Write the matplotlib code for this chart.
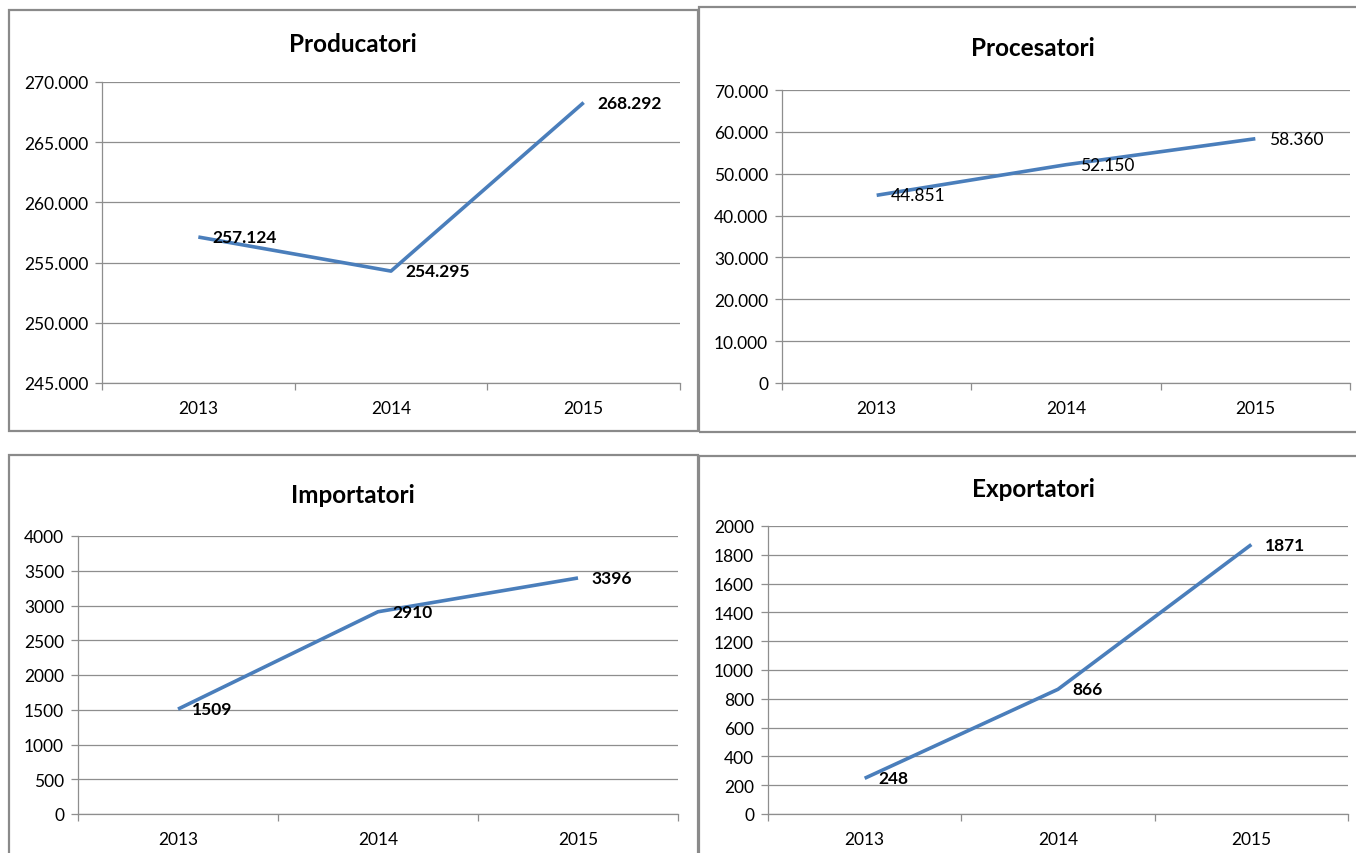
#!/usr/bin/env python3
import matplotlib

matplotlib.use("Agg")
import matplotlib.pyplot as plt
from matplotlib.patches import Rectangle
from matplotlib.ticker import FuncFormatter

years = ["2013", "2014", "2015"]
producatori = [257124, 254295, 268292]
procesatori = [44851, 52150, 58360]
importatori = [1509, 2910, 3396]
exportatori = [248, 866, 1871]

W, H = 1356, 854
LINE_COLOR = "#4a7ebb"
GRID_COLOR = "#8e8e8e"
BORDER_COLOR = "#8a8a8a"

plt.rcParams["font.family"] = ["Lato", "DejaVu Sans"]


def dot_thousands(v, pos):
  return f"{int(round(v)):,}".replace(",", ".")


def plain(v, pos):
  return f"{int(round(v))}"


def add_border(fig, left, top, right, bottom):
  rect = Rectangle((left / W, 1 - bottom / H), (right - left) / W, (bottom - top) / H,
                   transform=fig.transFigure, fill=False, edgecolor=BORDER_COLOR,
                   linewidth=1.6, zorder=10)
  fig.patches.append(rect)


def draw_panel(fig, box, title, title_pos, values, ymin, ymax, ystep, fmt, bold_labels):
  left, top, right, bottom = box
  ax = fig.add_axes([left / W, 1 - bottom / H, (right - left) / W, (bottom - top) / H])
  xs = list(range(len(values)))
  ax.plot(xs, values, color=LINE_COLOR, linewidth=2.6, solid_joinstyle="round",
          solid_capstyle="butt", zorder=3)

  ax.set_xlim(-0.5, len(values) - 0.5)
  ax.set_ylim(ymin, ymax)
  yt = list(range(ymin, ymax + 1, ystep))
  ax.set_yticks(yt)
  ax.yaxis.set_major_formatter(FuncFormatter(fmt))
  ax.grid(axis="y", color=GRID_COLOR, linewidth=0.9)
  ax.set_axisbelow(True)

  ax.set_xticks([x - 0.5 for x in range(len(values) + 1)])
  ax.set_xticklabels([])
  ax.set_xticks(xs, minor=True)
  ax.set_xticklabels(years, minor=True)
  ax.tick_params(axis="x", which="major", direction="out", length=5, color=GRID_COLOR, width=0.9)
  ax.tick_params(axis="x", which="minor", length=0, pad=12, labelsize=12.5)
  ax.tick_params(axis="y", direction="out", length=5, color=GRID_COLOR, width=0.9,
                 pad=5, labelsize=12.5)

  for side in ("top", "right"):
    ax.spines[side].set_visible(False)
  for side in ("left", "bottom"):
    ax.spines[side].set_color(GRID_COLOR)
    ax.spines[side].set_linewidth(0.9)

  for x, v in zip(xs, values):
    ax.annotate(fmt(v, None), (x, v), xytext=(10, 0), textcoords="offset points",
                ha="left", va="center", fontsize=12.5,
                fontweight="bold" if bold_labels else "normal", zorder=4)

  fig.text(title_pos[0] / W, 1 - title_pos[1] / H, title, ha="center", va="center",
           fontsize=17.5, fontweight="bold")
  return ax


fig = plt.figure(figsize=(W / 100, H / 100), dpi=100)

add_border(fig, 9, 11, 698, 432)
add_border(fig, 699, 8, 1362, 433)
add_border(fig, 9, 456, 698, 862)
add_border(fig, 699, 457, 1362, 862)

draw_panel(fig, (102, 83, 680, 384), "Producatori", (353, 45), producatori,
           245000, 270000, 5000, dot_thousands, True)
draw_panel(fig, (782, 91, 1350, 384), "Procesatori", (1033, 49), procesatori,
           0, 70000, 10000, dot_thousands, False)
draw_panel(fig, (78, 537, 678, 815), "Importatori", (353, 496), importatori,
           0, 4000, 500, plain, True)
draw_panel(fig, (768, 527, 1348, 815), "Exportatori", (1033, 490), exportatori,
           0, 2000, 200, plain, True)

fig.savefig("out.png", dpi=100)
